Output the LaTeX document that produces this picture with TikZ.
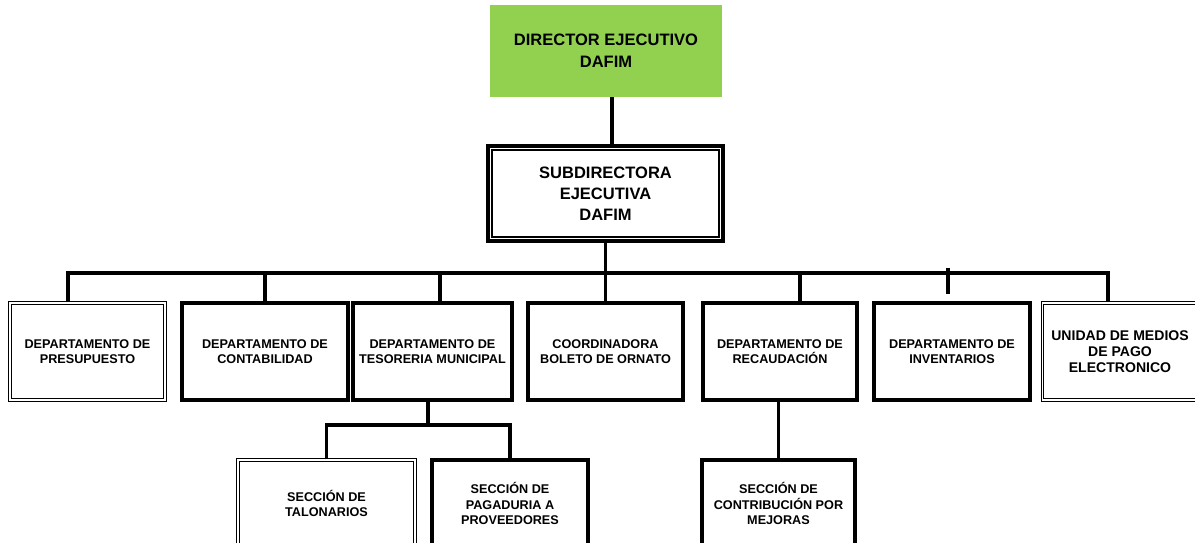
\documentclass[tikz,border=0pt]{standalone}
\usepackage{fontspec}
\setmainfont{Liberation Sans}
\usepackage{tikz}
\usetikzlibrary{positioning}
\definecolor{dafimgreen}{HTML}{92D050}
\tikzstyle{conn} = [line width=2pt]
\tikzstyle{unitbox} = [draw, line width=2.2pt, align=center, minimum width=3.1cm, minimum height=1.94cm, font=\bfseries\fontsize{7.2}{8.9}\selectfont]
\tikzstyle{dblbox} = [unitbox, line width=0.6pt, double, double distance=0.7pt]
\tikzstyle{secbox} = [unitbox, minimum height=1.74cm]

\begin{document}
\begin{tikzpicture}[x=0.02cm, y=-0.02cm]
\useasboundingbox (0,0) rectangle (1195,543);
\clip (0,0) rectangle (1195,543);

% direccion
\node[fill=dafimgreen, minimum width=4.64cm, minimum height=1.84cm, align=center, font=\bfseries\fontsize{9.4}{12.5}\selectfont] (dir) at (606,51) {DIRECTOR EJECUTIVO\\DAFIM};
\node[draw, line width=2.2pt, minimum width=4.7cm, minimum height=1.9cm, align=center, font=\bfseries\fontsize{9.4}{12}\selectfont] (sub) at (605.5,193.5) {SUBDIRECTORA\\EJECUTIVA\\DAFIM};
\draw[line width=0.8pt] ([xshift=3.4pt,yshift=-3.4pt]sub.north west) rectangle ([xshift=-3.4pt,yshift=3.4pt]sub.south east);

% departamentos
\node[dblbox] (presup) at (87.5,351.5) {DEPARTAMENTO DE\\PRESUPUESTO};
\node[unitbox, minimum width=3.32cm] (contab) at (265,351.5) {DEPARTAMENTO DE\\CONTABILIDAD};
\node[unitbox] (tesor) at (432.5,351.5) {DEPARTAMENTO DE\\TESORERIA MUNICIPAL};
\node[unitbox] (coord) at (605.5,351.5) {COORDINADORA\\BOLETO DE ORNATO};
\node[unitbox, minimum width=3.08cm] (recaud) at (780,351.5) {DEPARTAMENTO DE\\RECAUDACIÓN};
\node[unitbox, minimum width=3.12cm] (invent) at (952,351.5) {DEPARTAMENTO DE\\INVENTARIOS};
\node[dblbox, font=\bfseries\fontsize{8}{9}\selectfont] (unidad) at (1120,351.5) {UNIDAD DE MEDIOS\\DE PAGO\\ELECTRONICO};

% secciones
\node[secbox, dblbox, minimum height=1.74cm, minimum width=3.54cm] (talon) at (326.5,503.5) {SECCIÓN DE\\TALONARIOS};
\node[secbox, minimum width=3.12cm] (pagad) at (510,503.5) {SECCIÓN DE\\PAGADURIA A\\PROVEEDORES};
\node[secbox, minimum width=3.06cm] (contrib) at (778.5,503.5) {SECCIÓN DE\\CONTRIBUCIÓN POR\\MEJORAS};

% lineas
\coordinate (busL) at (68,273);
\coordinate (busR) at (1108,273);
\coordinate (dropT) at (440,273);
\coordinate (dropR) at (800,273);
\coordinate (dropI) at (948,268);
\coordinate (tbus) at (428,425);
\coordinate (topline) at ([xshift=0.12cm]dir.south);

\draw[conn] (topline) -- (topline |- sub.north);
\draw[conn] (sub.south) -- (coord.north);
\draw[conn] (busL |- presup.north) -- (busL) -- (busR) -- (busR |- unidad.north);
\draw[conn] (contab.north |- busL) -- (contab.north);
\draw[conn] (dropT) -- (dropT |- tesor.north);
\draw[conn] (dropR) -- (dropR |- recaud.north);
\draw[conn, shorten >=0.14cm] (dropI) -- (dropI |- invent.north);

\draw[conn] (tbus |- tesor.south) -- (tbus);
\draw[conn] (talon.north) -- (talon.north |- tbus) -- (pagad.north |- tbus) -- (pagad.north);
\draw[conn] (contrib.north |- recaud.south) -- (contrib.north);
\end{tikzpicture}
\end{document}
